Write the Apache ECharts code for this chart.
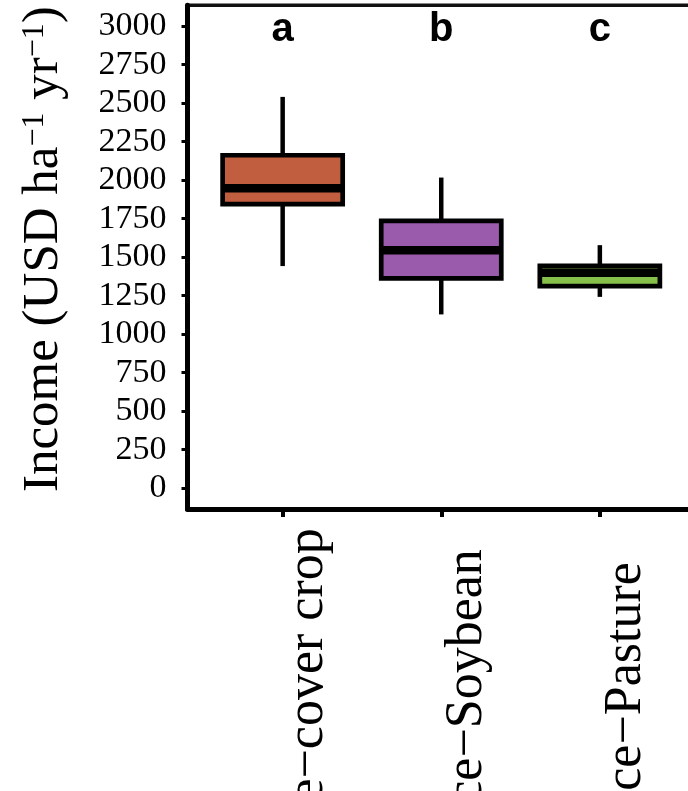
<!DOCTYPE html>
<html><head><meta charset="utf-8">
<script src="https://cdn.jsdelivr.net/npm/echarts@6/dist/echarts.min.js"></script>
<style>html,body{margin:0;padding:0;background:#fff}#c{width:688px;height:791px}</style>
</head><body><div id="c"></div>
<script>
const categories = ['Rice\u2212cover crop', 'Rice\u2212Soybean', 'Rice\u2212Pasture'];
const whiskerLow = [1442, 1128, 1242];
const q1 = [1844, 1362, 1312];
const median = [1948, 1545, 1399];
const q3 = [2162, 1736, 1443];
const whiskerHigh = [2541, 2017, 1578];
const letters = ['a', 'b', 'c'];
const fillColors = ['#C15E3F', '#9A5BAD', '#86C04A'];
const yTicks = [0, 250, 500, 750, 1000, 1250, 1500, 1750, 2000, 2250, 2500, 2750, 3000];
const letterLevel = 2975;

const positions = categories.map((c, i) => i + 1);
const boxData = categories.map((c, i) => [positions[i], whiskerLow[i], q1[i], median[i], q3[i], whiskerHigh[i]]);

const chart = echarts.init(document.getElementById('c'), null, {renderer: 'canvas'});
chart.setOption({
  animation: false,
  backgroundColor: '#fff',
  grid: {left: 187.5, right: -7, top: 5.3, bottom: 282, containLabel: false, outerBoundsMode: 'none', show: true, borderColor: '#111', borderWidth: 3.5, backgroundColor: 'transparent'},
  xAxis: {
    type: 'value', min: 0.4, max: 3.6,
    splitLine: {show: false},
    axisLine: {show: true, onZero: false, lineStyle: {color: '#000', width: 5}},
    axisTick: {show: true, customValues: positions, length: 8, lineStyle: {color: '#000', width: 4}},
    axisLabel: {
      customValues: positions,
      formatter: v => categories[Math.round(v) - 1],
      rotate: 90, align: 'center', verticalAlign: 'top', margin: 192,
      fontFamily: 'Liberation Serif', fontSize: 52, color: '#000'
    }
  },
  yAxis: {
    type: 'value', min: -136, max: 3136,
    splitLine: {show: false},
    axisLine: {show: true, onZero: false, lineStyle: {color: '#000', width: 5}},
    axisTick: {show: true, customValues: yTicks, length: 6, lineStyle: {color: '#000', width: 3}},
    axisLabel: {customValues: yTicks, formatter: v => String(v), fontFamily: 'Liberation Serif', fontSize: 34, color: '#000', margin: 21, padding: [6, 0, 0, 0]},
    name: 'Income (USD ha{sup|\u22121} yr{sup|\u22121})',
    nameLocation: 'middle', nameGap: 118,
    nameTextStyle: {
      fontFamily: 'Liberation Serif', fontSize: 51, color: '#000', padding: [0, 0, 0, 16],
      rich: {sup: {fontFamily: 'Liberation Serif', fontSize: 32, color: '#000', verticalAlign: 'top', lineHeight: 32}}
    }
  },
  series: [{
    type: 'custom',
    data: boxData,
    clip: false,
    renderItem: function (params, api) {
      const i = params.dataIndex;
      const x = api.value(0);
      const lo = api.coord([x, api.value(1)]);
      const p1 = api.coord([x, api.value(2)]);
      const pm = api.coord([x, api.value(3)]);
      const p3 = api.coord([x, api.value(4)]);
      const hi = api.coord([x, api.value(5)]);
      const lt = api.coord([x, letterLevel]);
      const w = api.size([0.757, 0])[0];
      return {
        type: 'group',
        children: [
          {type: 'line', shape: {x1: lo[0], y1: lo[1], x2: p1[0], y2: p1[1]}, style: {stroke: '#000', lineWidth: 4.5}},
          {type: 'line', shape: {x1: p3[0], y1: p3[1], x2: hi[0], y2: hi[1]}, style: {stroke: '#000', lineWidth: 4.5}},
          {type: 'rect', shape: {x: p3[0] - w / 2, y: p3[1], width: w, height: p1[1] - p3[1]}, style: {fill: fillColors[i], stroke: '#000', lineWidth: 4.7}},
          {type: 'line', shape: {x1: pm[0] - w / 2, y1: pm[1], x2: pm[0] + w / 2, y2: pm[1]}, style: {stroke: '#000', lineWidth: 8.5}},
          {type: 'text', style: {text: letters[i], x: lt[0], y: lt[1], align: 'center', verticalAlign: 'middle', fontFamily: 'Liberation Sans', fontWeight: 'bold', fontSize: 40, fill: '#000'}}
        ]
      };
    }
  }]
});
</script>
</body></html>
